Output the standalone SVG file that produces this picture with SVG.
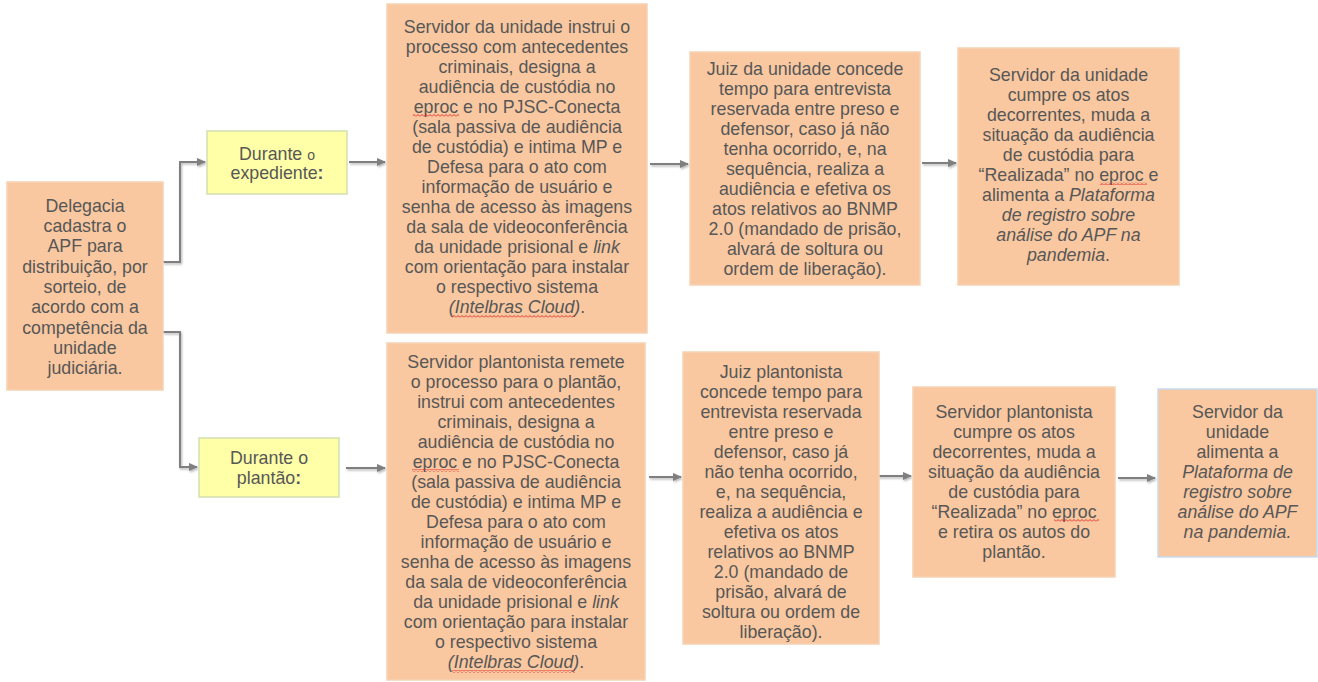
<svg xmlns="http://www.w3.org/2000/svg" width="1318" height="682" viewBox="0 0 1318 682">
<defs>
<style>
.box{fill:#F9C8A0;stroke:#F6D2B4;stroke-width:1.5}
.ybox{fill:#FFFFA8;stroke:#D3E0B0;stroke-width:1.5}
.bbox{fill:#F9C8A0;stroke:#C9DAF0;stroke-width:1.5}
text{font-family:"Liberation Sans",Arial,sans-serif;font-size:17.8px;fill:#575757;text-anchor:middle}
.i{font-style:italic}
.sm{font-size:14px}
.conn{fill:none;stroke:#7F7F7F;stroke-width:2;filter:url(#sh)}
.sq{fill:url(#sq)}
</style>
<filter id="sh" filterUnits="userSpaceOnUse" x="0" y="0" width="1318" height="682">
<feDropShadow dx="1" dy="1.5" stdDeviation="1" flood-color="#000" flood-opacity="0.3"/>
</filter>
<marker id="ar" markerWidth="10" markerHeight="10" refX="8" refY="4" orient="auto" markerUnits="userSpaceOnUse">
<path d="M0,0 L9,4 L0,8 Z" fill="#7F7F7F"/>
</marker>
<pattern id="sq" width="4" height="3" patternUnits="userSpaceOnUse">
<path d="M0,2.5 L2,0.5 L4,2.5" stroke="#E02020" fill="none" stroke-width="0.9"/>
</pattern>
</defs>

<g id="connectors">
<path class="conn" d="M163,262 H180 V162 H205" marker-end="url(#ar)"/>
<path class="conn" d="M163,332 H180 V467 H197" marker-end="url(#ar)"/>
<path class="conn" d="M349,162 H385" marker-end="url(#ar)"/>
<path class="conn" d="M650,164 H688" marker-end="url(#ar)"/>
<path class="conn" d="M922,163 H956" marker-end="url(#ar)"/>
<path class="conn" d="M346,468 H385" marker-end="url(#ar)"/>
<path class="conn" d="M649,477 H681" marker-end="url(#ar)"/>
<path class="conn" d="M876,476 H911" marker-end="url(#ar)"/>
<path class="conn" d="M1118,478 H1155" marker-end="url(#ar)"/>
</g>

<g id="delegacia">
<rect class="box" x="7" y="182" width="156" height="208"/>
<text x="85" y="212">Delegacia</text>
<text x="85" y="232">cadastra o</text>
<text x="85" y="252">APF para</text>
<text x="85" y="273">distribuição, por</text>
<text x="85" y="293">sorteio, de</text>
<text x="85" y="313">acordo com a</text>
<text x="85" y="334">competência da</text>
<text x="85" y="354">unidade</text>
<text x="85" y="374">judiciária.</text>
</g>

<g id="durante-expediente">
<rect class="ybox" x="207" y="131" width="140" height="63"/>
<text x="277" y="160">Durante <tspan class="sm">o</tspan></text>
<text x="277" y="179">expediente<tspan font-weight="bold">:</tspan></text>
</g>

<g id="durante-plantao">
<rect class="ybox" x="199" y="438" width="140" height="59"/>
<text x="269" y="464">Durante o</text>
<text x="269" y="484">plantão<tspan font-weight="bold">:</tspan></text>
</g>

<g id="servidor-instrui">
<rect class="box" x="387" y="4" width="260" height="329"/>
<text x="517" y="33">Servidor da unidade instrui o</text>
<text x="517" y="53">processo com antecedentes</text>
<text x="517" y="73">criminais, designa a</text>
<text x="517" y="93">audiência de custódia no</text>
<text x="517" y="113">eproc e no PJSC-Conecta</text>
<text x="517" y="133">(sala passiva de audiência</text>
<text x="517" y="153">de custódia) e intima MP e</text>
<text x="517" y="173">Defesa para o ato com</text>
<text x="517" y="193">informação de usuário e</text>
<text x="517" y="213">senha de acesso às imagens</text>
<text x="517" y="233">da sala de videoconferência</text>
<text x="517" y="253">da unidade prisional e <tspan class="i">link</tspan></text>
<text x="517" y="273">com orientação para instalar</text>
<text x="517" y="293">o respectivo sistema</text>
<text x="517" y="313"><tspan class="i">(Intelbras Cloud)</tspan>.</text>
<rect class="sq" x="413" y="114" width="46" height="3"/>
<rect class="sq" x="452" y="315" width="123" height="3"/>
</g>

<g id="juiz-unidade">
<rect class="box" x="690" y="52" width="230" height="233"/>
<text x="805" y="75">Juiz da unidade concede</text>
<text x="805" y="95">tempo para entrevista</text>
<text x="805" y="115">reservada entre preso e</text>
<text x="805" y="135">defensor, caso já não</text>
<text x="805" y="155">tenha ocorrido, e, na</text>
<text x="805" y="175">sequência, realiza a</text>
<text x="805" y="195">audiência e efetiva os</text>
<text x="805" y="215">atos relativos ao BNMP</text>
<text x="805" y="235">2.0 (mandado de prisão,</text>
<text x="805" y="255">alvará de soltura ou</text>
<text x="805" y="275">ordem de liberação).</text>
</g>

<g id="servidor-cumpre">
<rect class="box" x="958" y="48" width="221" height="237"/>
<text x="1068.5" y="81">Servidor da unidade</text>
<text x="1068.5" y="101">cumpre os atos</text>
<text x="1068.5" y="121">decorrentes, muda a</text>
<text x="1068.5" y="141">situação da audiência</text>
<text x="1068.5" y="161">de custódia para</text>
<text x="1068.5" y="181">“Realizada” no eproc e</text>
<text x="1068.5" y="201">alimenta a <tspan class="i">Plataforma</tspan></text>
<text x="1068.5" y="221" class="i">de registro sobre</text>
<text x="1068.5" y="241" class="i">análise do APF na</text>
<text x="1068.5" y="261"><tspan class="i">pandemia</tspan>.</text>
<rect class="sq" x="1100" y="182" width="47" height="3"/>
</g>

<g id="servidor-plantonista-remete">
<rect class="box" x="387" y="343" width="258" height="337"/>
<text x="516" y="368">Servidor plantonista remete</text>
<text x="516" y="388">o processo para o plantão,</text>
<text x="516" y="408">instrui com antecedentes</text>
<text x="516" y="428">criminais, designa a</text>
<text x="516" y="448">audiência de custódia no</text>
<text x="516" y="468">eproc e no PJSC-Conecta</text>
<text x="516" y="488">(sala passiva de audiência</text>
<text x="516" y="508">de custódia) e intima MP e</text>
<text x="516" y="528">Defesa para o ato com</text>
<text x="516" y="548">informação de usuário e</text>
<text x="516" y="568">senha de acesso às imagens</text>
<text x="516" y="588">da sala de videoconferência</text>
<text x="516" y="608">da unidade prisional e <tspan class="i">link</tspan></text>
<text x="516" y="628">com orientação para instalar</text>
<text x="516" y="648">o respectivo sistema</text>
<text x="516" y="668"><tspan class="i">(Intelbras Cloud)</tspan>.</text>
<rect class="sq" x="412" y="469" width="47" height="3"/>
<rect class="sq" x="452" y="670" width="123" height="3"/>
</g>

<g id="juiz-plantonista">
<rect class="box" x="683" y="352" width="196" height="292"/>
<text x="781" y="378">Juiz plantonista</text>
<text x="781" y="398">concede tempo para</text>
<text x="781" y="418">entrevista reservada</text>
<text x="781" y="438">entre preso e</text>
<text x="781" y="458">defensor, caso já</text>
<text x="781" y="478">não tenha ocorrido,</text>
<text x="781" y="498">e, na sequência,</text>
<text x="781" y="518">realiza a audiência e</text>
<text x="781" y="538">efetiva os atos</text>
<text x="781" y="558">relativos ao BNMP</text>
<text x="781" y="578">2.0 (mandado de</text>
<text x="781" y="598">prisão, alvará de</text>
<text x="781" y="618">soltura ou ordem de</text>
<text x="781" y="638">liberação).</text>
</g>

<g id="servidor-plantonista-cumpre">
<rect class="box" x="913" y="387" width="202" height="190"/>
<text x="1014" y="418">Servidor plantonista</text>
<text x="1014" y="438">cumpre os atos</text>
<text x="1014" y="458">decorrentes, muda a</text>
<text x="1014" y="478">situação da audiência</text>
<text x="1014" y="498">de custódia para</text>
<text x="1014" y="518">“Realizada” no eproc</text>
<text x="1014" y="538">e retira os autos do</text>
<text x="1014" y="558">plantão.</text>
<rect class="sq" x="1054" y="519" width="45" height="3"/>
</g>

<g id="servidor-alimenta">
<rect class="bbox" x="1158" y="389" width="159" height="168"/>
<text x="1237.5" y="418">Servidor da</text>
<text x="1237.5" y="438">unidade</text>
<text x="1237.5" y="458">alimenta a</text>
<text x="1237.5" y="478" class="i">Plataforma de</text>
<text x="1237.5" y="498" class="i">registro sobre</text>
<text x="1237.5" y="518" class="i">análise do APF</text>
<text x="1237.5" y="538" class="i">na pandemia.</text>
</g>
</svg>
